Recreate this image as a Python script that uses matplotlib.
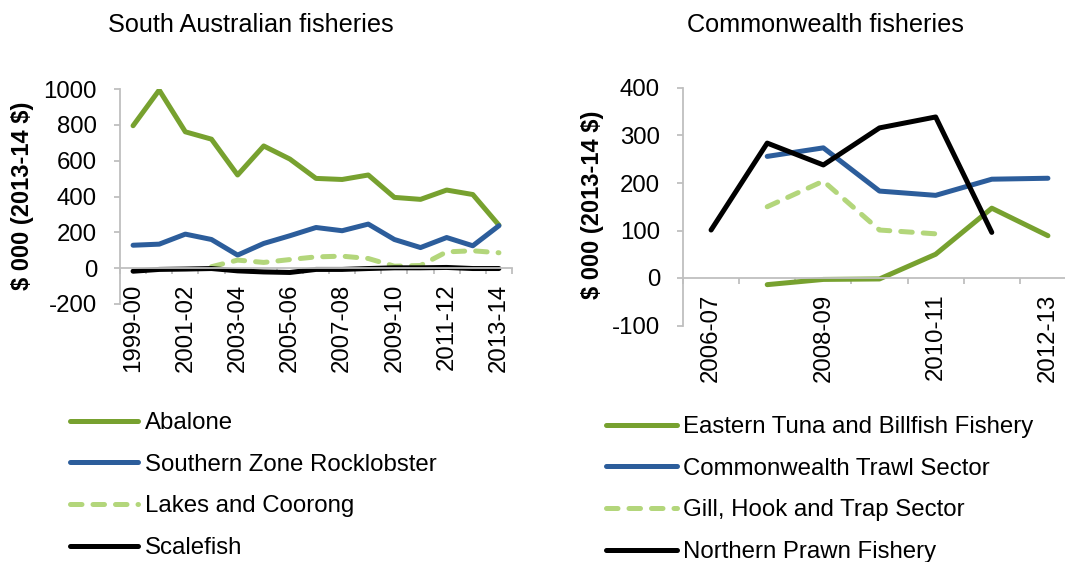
import numpy as np
import matplotlib
matplotlib.use("Agg")
import matplotlib.pyplot as plt

plt.rcParams['font.family'] = ['Liberation Sans', 'DejaVu Sans']

nan = np.nan
# ---- South Australian fisheries ----
sa_years = ["1999-00", "2000-01", "2001-02", "2002-03", "2003-04", "2004-05",
            "2005-06", "2006-07", "2007-08", "2008-09", "2009-10", "2010-11",
            "2011-12", "2012-13", "2013-14"]
abalone = [795, 994, 761, 720, 520, 682, 609, 501, 495, 520, 395, 384, 436, 411, 240]
rocklobster = [128, 134, 190, 160, 73, 138, 181, 227, 209, 246, 160, 115, 171, 125, 237]
lakes = [nan, nan, nan, 8, 45, 32, 48, 63, 67, 54, 11, 15, 91, 97, 86]
scalefish = [-17, -7, -5, -2, -15, -21, -24, -7, -7, -2, 2, 2, 4, -2, -2]

# ---- Commonwealth fisheries ----
cw_years = ["2006-07", "2007-08", "2008-09", "2009-10", "2010-11", "2011-12", "2012-13"]
eastern_tuna = [nan, -14, -3, -2, 50, 147, 89]
trawl = [nan, 256, 274, 183, 174, 208, 210]
gill_hook = [nan, 150, 204, 101, 93, nan, nan]
northern_prawn = [101, 284, 238, 316, 339, 96, nan]

GREEN = "#77A12F"
BLUE = "#2C5D9B"
LIGHT = "#B3D67B"
BLACK = "#000000"
GREY = "#BFBFBF"
FS = 17.3

W, H = 1065, 562
fig = plt.figure(figsize=(W / 100, H / 100), dpi=100)


def px_axes(x0, x1, ytop, ybot):
    return fig.add_axes([x0 / W, (H - ybot) / H, (x1 - x0) / W, (ybot - ytop) / H])


def style_axes(ax, cats, ylim, yticks, label_pad):
    n = len(cats)
    ax.set_xlim(-0.5, n - 0.5)
    ax.set_ylim(*ylim)
    for s in ["top", "right"]:
        ax.spines[s].set_visible(False)
    ax.spines["bottom"].set_position(("data", 0))
    for s in ["left", "bottom"]:
        ax.spines[s].set_color(GREY)
        ax.spines[s].set_linewidth(1.3)
    ax.set_yticks(yticks)
    ax.set_yticklabels([str(v) for v in yticks])
    ax.tick_params(axis="y", direction="out", length=4.5, width=1.3, color=GREY,
                   labelsize=FS, pad=12)
    # major ticks between categories (no labels)
    ax.set_xticks(np.arange(-0.5, n, 1.0))
    ax.set_xticklabels([])
    ax.tick_params(axis="x", which="major", direction="out", length=4.5, width=1.3, color=GREY)
    # labels at every other category
    idx = list(range(0, n, 2))
    ax.set_xticks(idx, minor=True)
    ax.set_xticklabels([cats[i] for i in idx], minor=True, rotation=90)
    ax.tick_params(axis="x", which="minor", length=0, labelsize=FS, pad=label_pad)


def plot_line(ax, x, y, color, label, dashed=False):
    if dashed:
        ax.plot(x, y, color=color, lw=3.6, label=label, dashes=(2.3, 2.2),
                dash_capstyle="round", solid_joinstyle="round")
    else:
        ax.plot(x, y, color=color, lw=3.6, label=label,
                solid_capstyle="round", solid_joinstyle="round")


# Left chart
ax1 = px_axes(120, 512, 89, 304)
xs = np.arange(len(sa_years))
plot_line(ax1, xs, abalone, GREEN, "Abalone")
plot_line(ax1, xs, rocklobster, BLUE, "Southern Zone Rocklobster")
plot_line(ax1, xs, lakes, LIGHT, "Lakes and Coorong", dashed=True)
plot_line(ax1, xs, scalefish, BLACK, "Scalefish")
style_axes(ax1, sa_years, (-200, 1000), list(range(-200, 1001, 200)), 11)

# Right chart
ax2 = px_axes(683, 1076, 88, 325.5)
xc = np.arange(len(cw_years))
plot_line(ax2, xc, eastern_tuna, GREEN, "Eastern Tuna and Billfish Fishery")
plot_line(ax2, xc, trawl, BLUE, "Commonwealth Trawl Sector")
plot_line(ax2, xc, gill_hook, LIGHT, "Gill, Hook and Trap Sector", dashed=True)
plot_line(ax2, xc, northern_prawn, BLACK, "Northern Prawn Fishery")
style_axes(ax2, cw_years, (-100, 400), list(range(-100, 401, 100)), 11)

# Titles and y labels
fig.text(251 / W, 1 - 25 / H, "South Australian fisheries", ha="center", va="center", fontsize=18.2)
fig.text(825 / W, 1 - 25 / H, "Commonwealth fisheries", ha="center", va="center", fontsize=18.2)
ylab = "\\$ 000 (2013-14 \\$)"
fig.text(23 / W, 1 - 196 / H, ylab, rotation=90, ha="center", va="center",
         fontsize=17, fontweight="bold")
fig.text(592 / W, 1 - 205 / H, ylab, rotation=90, ha="center", va="center",
         fontsize=17, fontweight="bold")

# Legends
leg_kw = dict(frameon=False, fontsize=FS, borderpad=0, borderaxespad=0,
              handletextpad=0.26, labelspacing=0.82, loc="upper left")
ax1.legend(bbox_to_anchor=(70 / W, 1 - 412 / H), bbox_transform=fig.transFigure,
           handlelength=2.85, **leg_kw)
ax2.legend(bbox_to_anchor=(606 / W, 1 - 416 / H), bbox_transform=fig.transFigure,
           handlelength=2.95, **leg_kw)

fig.savefig("out.png", dpi=100)
